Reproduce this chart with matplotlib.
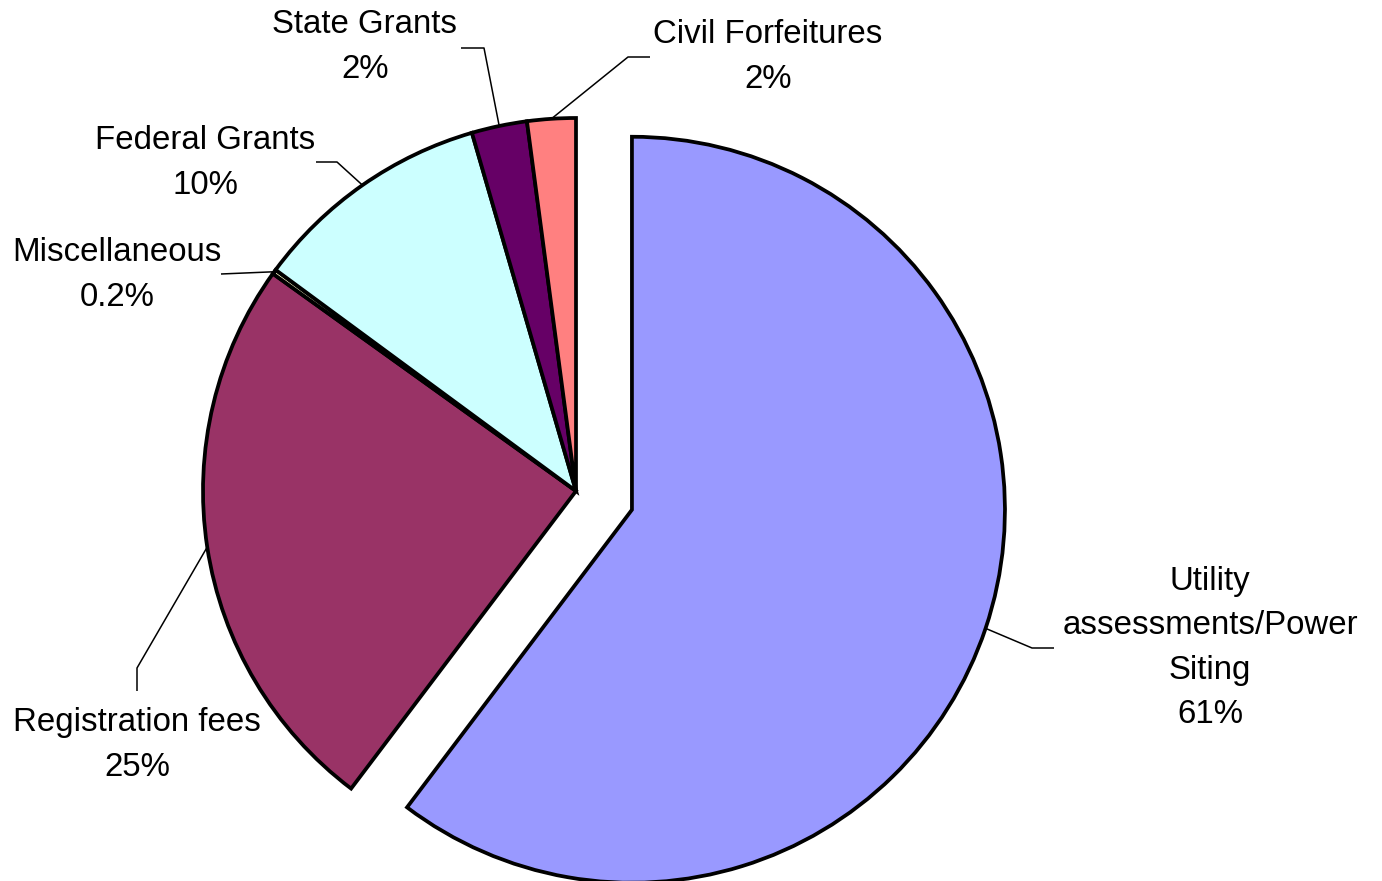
import matplotlib
matplotlib.use("Agg")
import matplotlib.pyplot as plt
import numpy as np

plt.rcParams['font.family'] = ['Liberation Sans', 'DejaVu Sans']

# ---- data ----
categories = ["Utility\nassessments/Power\nSiting", "Registration fees", "Miscellaneous",
              "Federal Grants", "State Grants", "Civil Forfeitures"]
values = [60.3, 24.6, 0.2, 10.4, 2.4, 2.1]
pct_labels = ["61%", "25%", "0.2%", "10%", "2%", "2%"]
colors = ["#9999FF", "#993366", "#FFFFCC", "#CCFFFF", "#660066", "#FF8080"]

# ---- layout (pixel-like data coordinates, y up) ----
W, H = 1382, 881
center = (576, 390)
radius = 373
explode = [59, 0, 0, 0, 0, 0]
label_pos = [(1210, 233), (137, 136), (117, 606), (205, 718), (365, 834), (768, 824)]
elbow = [(1032, 233), (137, 213), (221, 607), (337, 719), (484, 833), (628, 824)]
end = [(1054, 233), (137, 190), (221, 607), (316, 719), (461, 833), (650, 824)]

fig = plt.figure(figsize=(W / 100, H / 100), dpi=100)
ax = fig.add_axes([0, 0, 1, 1])
wedges, _ = ax.pie(values, colors=colors, startangle=90, counterclock=False,
                   center=center, radius=radius, explode=explode,
                   wedgeprops=dict(edgecolor="black", linewidth=2.7, joinstyle="miter"))
ax.set_xlim(0, W)
ax.set_ylim(0, H)
ax.set_aspect("equal")
ax.axis("off")

for i, w in enumerate(wedges):
    tm = np.deg2rad((w.theta1 + w.theta2) / 2)
    cx, cy = w.center
    sx = cx + w.r * np.cos(tm)
    sy = cy + w.r * np.sin(tm)
    ax.plot([sx, elbow[i][0], end[i][0]], [sy, elbow[i][1], end[i][1]],
            color="black", linewidth=1.1, solid_capstyle="butt", zorder=1)
    ax.text(label_pos[i][0], label_pos[i][1], categories[i] + "\n" + pct_labels[i],
            ha="center", va="center", multialignment="center",
            fontsize=23.8, linespacing=1.56, color="black")

fig.savefig("out.png", dpi=100, facecolor="white")
